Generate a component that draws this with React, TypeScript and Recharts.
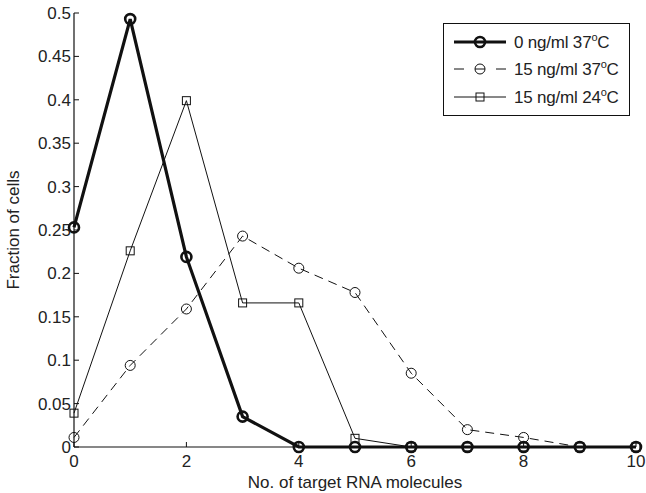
import { LineChart, Line, XAxis, YAxis, Legend } from "recharts";

const molecules = [0, 1, 2, 3, 4, 5, 6, 7, 8, 9, 10];
const zero37 = [0.253, 0.493, 0.219, 0.035, 0, 0, 0, 0, 0, 0, 0];
const fifteen37 = [0.011, 0.094, 0.159, 0.243, 0.206, 0.178, 0.085, 0.02, 0.011, 0, 0];
const fifteen24 = [0.039, 0.226, 0.399, 0.166, 0.166, 0.01, 0, 0, 0, 0, 0];

const xTicks = [0, 2, 4, 6, 8, 10];
const yTicks = [0, 0.05, 0.1, 0.15, 0.2, 0.25, 0.3, 0.35, 0.4, 0.45, 0.5];

const data = molecules.map((m, i) => ({
  x: m,
  zero37: zero37[i],
  fifteen37: fifteen37[i],
  fifteen24: fifteen24[i],
}));

const INK = "#111";
const TEXT = "#222";
const FS = 17;

function BottomTick({ x, y, payload }: any) {
  return (
    <g>
      <line x1={x} x2={x} y1={y} y2={y - 5} stroke={INK} />
      <text x={x} y={y + 20} textAnchor="middle" fill={TEXT} fontSize={FS}>
        {payload.value}
      </text>
    </g>
  );
}

function TopTick({ x, y }: any) {
  return <line x1={x} x2={x} y1={y} y2={y + 5} stroke={INK} />;
}

function LeftTick({ x, y, payload }: any) {
  return (
    <g>
      <line x1={x} x2={x + 5} y1={y} y2={y} stroke={INK} />
      <text x={x - 3} y={y + 6} textAnchor="end" fill={TEXT} fontSize={FS}>
        {String(payload.value)}
      </text>
    </g>
  );
}

function RightTick({ x, y }: any) {
  return <line x1={x} x2={x - 5} y1={y} y2={y} stroke={INK} />;
}

function ThickDot({ cx, cy, index }: any) {
  return <circle key={index} cx={cx} cy={cy} r={5} fill="none" stroke={INK} strokeWidth={2.6} />;
}

function ThinCircle({ cx, cy, index }: any) {
  return <circle key={index} cx={cx} cy={cy} r={5} fill="none" stroke={INK} strokeWidth={1} />;
}

function SquareDot({ cx, cy, index }: any) {
  return <rect key={index} x={cx - 4} y={cy - 4} width={8} height={8} fill="none" stroke={INK} strokeWidth={1} />;
}

function LegendBox() {
  const rows = [
    { label: "0 ng/ml 37", kind: "thick" },
    { label: "15 ng/ml 37", kind: "dashed" },
    { label: "15 ng/ml 24", kind: "square" },
  ];
  return (
    <div
      style={{
        border: `1px solid ${INK}`,
        background: "#fff",
        width: 187,
        padding: "4px 0 4px 0",
        boxSizing: "border-box",
      }}
    >
      {rows.map((r) => (
        <div key={r.kind} style={{ display: "flex", alignItems: "center", height: 27.5 }}>
          <svg width={70} height={16} style={{ flex: "none" }}>
            {r.kind === "thick" && (
              <g>
                <line x1={10} x2={62} y1={8} y2={8} stroke={INK} strokeWidth={3} />
                <circle cx={36} cy={8} r={5} fill="none" stroke={INK} strokeWidth={2.6} />
              </g>
            )}
            {r.kind === "dashed" && (
              <g>
                <line x1={10} x2={20} y1={8} y2={8} stroke={INK} />
                <line x1={52} x2={62} y1={8} y2={8} stroke={INK} />
                <circle cx={36} cy={8} r={5} fill="none" stroke={INK} />
                <line x1={31} x2={41} y1={8} y2={8} stroke={INK} />
              </g>
            )}
            {r.kind === "square" && (
              <g>
                <line x1={10} x2={62} y1={8} y2={8} stroke={INK} />
                <rect x={32} y={4} width={8} height={8} fill="#fff" stroke={INK} />
                <line x1={32} x2={40} y1={8} y2={8} stroke={INK} />
              </g>
            )}
          </svg>
          <span style={{ fontSize: FS, color: TEXT, whiteSpace: "nowrap", letterSpacing: -0.2 }}>
            {r.label}
            <sup style={{ fontSize: 11 }}>o</sup>C
          </span>
        </div>
      ))}
    </div>
  );
}

export default function App() {
  return (
    <div
      style={{
        position: "absolute",
        left: 0,
        top: 0,
        width: 646,
        height: 493,
        background: "#fff",
        fontFamily: "'Liberation Sans', Arial, sans-serif",
      }}
    >
      <LineChart width={646} height={493} data={data} margin={{ top: 13, right: 10, bottom: 0, left: 0 }}>
        <XAxis
          dataKey="x"
          type="number"
          domain={[0, 10]}
          ticks={xTicks}
          height={46}
          tickSize={0}
          tickMargin={0}
          tickLine={false}
          axisLine={{ stroke: INK, strokeWidth: 1.2 }}
          tick={<BottomTick />}
          interval={0}
          label={{
            value: "No. of target RNA molecules",
            position: "insideBottom",
            offset: 5,
            fill: TEXT,
            fontSize: FS,
          }}
        />
        <XAxis
          xAxisId="top"
          dataKey="x"
          type="number"
          orientation="top"
          domain={[0, 10]}
          ticks={xTicks}
          height={0}
          tickSize={0}
          tickMargin={0}
          tickLine={false}
          axisLine={{ stroke: INK, strokeWidth: 1.2 }}
          tick={<TopTick />}
          interval={0}
        />
        <YAxis
          type="number"
          domain={[0, 0.5]}
          ticks={yTicks}
          width={74}
          tickSize={0}
          tickMargin={0}
          tickLine={false}
          axisLine={{ stroke: INK, strokeWidth: 1.2 }}
          tick={<LeftTick />}
          interval={0}
          label={({ viewBox }: any) => {
            const cx = viewBox.x + 19;
            const cy = viewBox.y + viewBox.height / 2;
            return (
              <text
                x={cx}
                y={cy}
                transform={`rotate(-90, ${cx}, ${cy})`}
                textAnchor="middle"
                fill={TEXT}
                fontSize={FS}
              >
                Fraction of cells
              </text>
            );
          }}
        />
        <YAxis
          yAxisId="right"
          orientation="right"
          type="number"
          domain={[0, 0.5]}
          ticks={yTicks}
          width={0}
          tickSize={0}
          tickMargin={0}
          tickLine={false}
          axisLine={{ stroke: INK, strokeWidth: 1.2 }}
          tick={<RightTick />}
          interval={0}
        />
        <Legend
          layout="horizontal"
          verticalAlign="middle"
          align="center"
          content={() => <LegendBox />}
          wrapperStyle={{ position: "absolute", left: 443, top: 23, width: "auto" }}
        />
        <Line
          dataKey="fifteen37"
          stroke={INK}
          strokeWidth={1}
          strokeDasharray="9 6"
          dot={<ThinCircle />}
          isAnimationActive={false}
        />
        <Line
          dataKey="fifteen24"
          stroke={INK}
          strokeWidth={1}
          dot={<SquareDot />}
          isAnimationActive={false}
        />
        <Line
          dataKey="zero37"
          stroke={INK}
          strokeWidth={3.2}
          dot={<ThickDot />}
          isAnimationActive={false}
        />
      </LineChart>
    </div>
  );
}
